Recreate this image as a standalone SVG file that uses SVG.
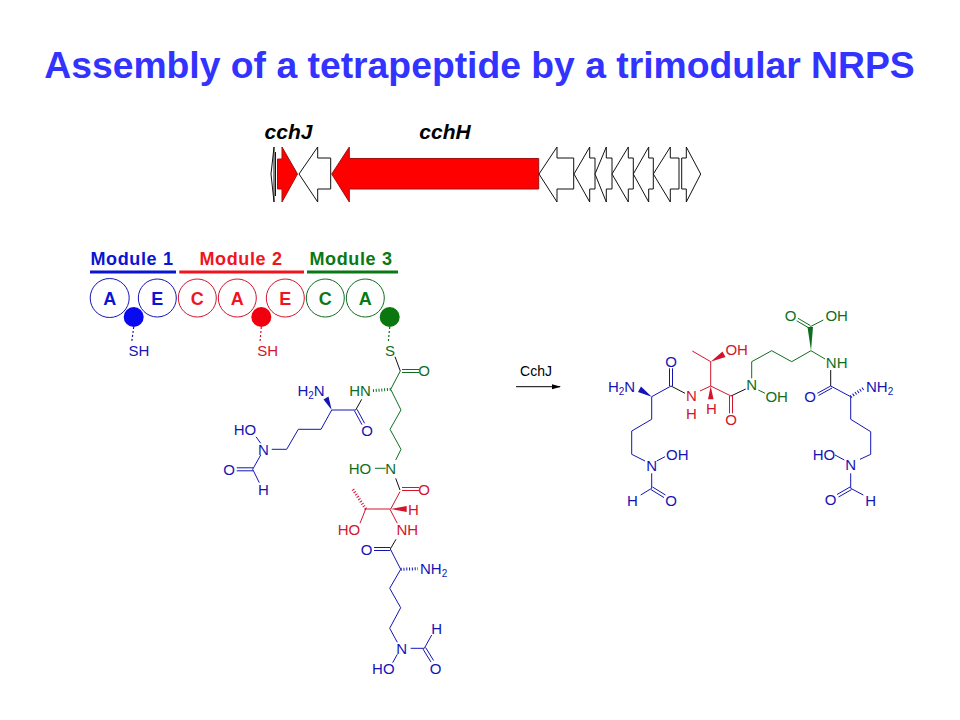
<svg xmlns="http://www.w3.org/2000/svg" width="960" height="720" viewBox="0 0 960 720">
<style>
text{font-family:"Liberation Sans",Arial,sans-serif}
.a{font-size:15px;text-anchor:middle}
.s{font-size:10px}
.m{font-size:18px;font-weight:700;text-anchor:middle;letter-spacing:.65px}
.d{font-size:18px;font-weight:700;text-anchor:middle}
.g{font-size:21px;font-weight:700;font-style:italic;text-anchor:middle;fill:#000}
.w{fill:#fff;stroke:#111;stroke-width:1}
.r{fill:#f00;stroke:#a01010;stroke-width:1}
.b,.rd,.gn,.k,.h{fill:none;stroke-width:1}
.b{stroke:#1414b4}.rd{stroke:#d2142d}.gn{stroke:#0f6e1e}.k{stroke:#111}
.tb{fill:#1414b4}.tr{fill:#d2142d}.tg{fill:#0f6e1e}
.c{fill:#fff;stroke-width:1}
.dash{stroke-width:3;stroke-dasharray:1 1.8;fill:none}
.sd{stroke-width:1.2;stroke-dasharray:2 2;fill:none}
</style>
<defs><marker id="ah" markerWidth="9" markerHeight="6" refX="8" refY="3" orient="auto" markerUnits="userSpaceOnUse"><path d="M0 .5L9 3L0 5.5Z" fill="#000"/></marker></defs>
<rect width="960" height="720" fill="#fff"/>
<text id="title" x="479.500" y="78" text-anchor="middle" font-size="37.300" font-weight="700" fill="#3333ff">Assembly of a tetrapeptide by a trimodular NRPS</text>

<g id="gene-cluster">
<text class="g" x="288.500" y="139">cchJ</text>
<text class="g" x="445" y="139">cchH</text>
<path class="w" d="M271 174L274 147V202Z"/><path class="k" d="M275.500 152V196"/>
<path class="r" d="M277.500 159H282V147L297.500 174L282 202V189H277.500Z"/>
<path class="w" d="M299 174L317.700 147V158H330.700V189H317.700V202Z"/>
<path class="r" d="M331.700 174L349.300 147V158.500H538.700V189H349.300V202Z"/>
<path class="w" d="M539 174L557 147V158H573.700V189H557V202Z"/>
<path class="w" d="M574 174L589.700 147V158H595V189H589.700V202Z"/>
<path class="w" d="M595 174L606.300 147V158H612V189H606.300V202Z"/>
<path class="w" d="M612 174L628.300 147V158H633.300V189H628.300V202Z"/>
<path class="w" d="M633.300 174L648.700 147V158H653.300V189H648.700V202Z"/>
<path class="w" d="M653.300 174L670.300 147V158H679V189H670.300V202Z"/>
<path class="w" d="M681.700 158H686.300V147L700.700 174L686.300 202V189H681.700Z"/>
</g>

<g id="module-1">
<text class="m" x="132" y="265" fill="#0a14d2">Module 1</text>
<rect x="90" y="270.500" width="86" height="3" fill="#0a14d2"/>
<circle class="c" cx="109.700" cy="298" r="19.500" stroke="#1414b4"/>
<circle class="c" cx="157.300" cy="298" r="19" stroke="#1414b4"/>
<text class="d" x="109.700" y="304.500" fill="#0a14d2">A</text>
<text class="d" x="157.300" y="304.500" fill="#0a14d2">E</text>
<path class="sd" stroke="#1414b4" d="M133.700 327L131.700 342"/>
<circle cx="133.700" cy="317" r="10" fill="#0a0af0"/>
<text class="a tb" x="139" y="356">SH</text>
</g>

<g id="module-2">
<text class="m" x="241" y="265" fill="#f0141e">Module 2</text>
<rect x="179.300" y="270.500" width="124.700" height="3" fill="#f0141e"/>
<circle class="c" cx="197.300" cy="298" r="19" stroke="#d2142d"/>
<circle class="c" cx="237.300" cy="298" r="19" stroke="#d2142d"/>
<circle class="c" cx="285.300" cy="298" r="19" stroke="#d2142d"/>
<text class="d" x="197.300" y="304.500" fill="#f0141e">C</text>
<text class="d" x="237.300" y="304.500" fill="#f0141e">A</text>
<text class="d" x="285.300" y="304.500" fill="#f0141e">E</text>
<path class="sd" stroke="#d2142d" d="M261.300 327L260 342"/>
<circle cx="261.300" cy="317" r="10" fill="#f0000f"/>
<text class="a tr" x="267.700" y="356">SH</text>
</g>

<g id="module-3">
<text class="m" x="351" y="265" fill="#0a7814">Module 3</text>
<rect x="307" y="270.500" width="91" height="3" fill="#0a7814"/>
<circle class="c" cx="325.300" cy="298" r="19" stroke="#0f6e1e"/>
<circle class="c" cx="365.300" cy="298" r="19" stroke="#0f6e1e"/>
<text class="d" x="325.300" y="304.500" fill="#0a7814">C</text>
<text class="d" x="365.300" y="304.500" fill="#0a7814">A</text>
<path class="sd" stroke="#0f6e1e" d="M389.700 327L388.300 342"/>
<circle cx="389.700" cy="317" r="10" fill="#0a780f"/>
</g>

<g id="bound-peptide">
<g id="bound-bonds">
<path class="k" d="M395 356.700L400.300 371M355.700 410L361.700 399.300M395.700 478.300L400 490M396 539.300L390.300 549"/>
<path class="gn" d="M402 369.500H419M402 372.500H419M400.300 371L390.700 389.300L401 410L390 429.300L401 449.300L395.700 460M375 468.300H385.700"/>
<path class="dash" stroke="#0f6e1e" d="M390.700 389.300L372 390.700"/>
<path class="b" d="M355.700 410H331.700L321 429.300H298.300L286.700 449.300H271.700M260.700 443.300L256 436.700M260.700 455L252.700 469.300L259.300 482.700M253 467.800H236.700M253 470.800H236.700M354.400 410.700L362 424.700M357 409.300L364.600 423.300"/>
<polygon class="tb" points="331.700,410 323.500,399.500 328.500,396.500"/>
<path class="rd" d="M402 487.500H419M402 490.500H419M400 491.700L390.700 509H365.700L360 523.300M390 509.300L397.300 523.300"/>
<polygon class="tr" points="390.700,509 406.700,506 406.700,512"/>
<path class="dash" stroke="#d2142d" d="M365.700 509L352.700 489"/>
<path class="b" d="M390.300 547.500H374M390.300 550.500H374M390.300 549L400.700 569.300L389.700 588.300L400.700 607.700L389.700 628.300L397.300 642.300M410.700 648.300H424.300L431.700 635M397.300 654.300L392.700 662.700M423 649.100L431 662.100M425.600 647.500L433.600 660.500"/>
<path class="dash" stroke="#1414b4" d="M400.700 569.300L418 568.700"/>
</g>
<text class="a tg" x="390" y="356">S</text>
<text class="a tg" x="424" y="375.500">O</text>
<text class="a tg" x="360" y="396">HN</text>
<text class="a tg" x="360" y="473.700">HO</text>
<text class="a tg" x="390.700" y="473.700">N</text>
<text class="a tb" x="311" y="396">H<tspan class="s" dy="3">2</tspan><tspan dy="-3">N</tspan></text>
<text class="a tb" x="367" y="435.500">O</text>
<text class="a tb" x="263.300" y="454.700">N</text>
<text class="a tb" x="245" y="434.700">HO</text>
<text class="a tb" x="229" y="474.700">O</text>
<text class="a tb" x="263.300" y="494.500">H</text>
<text class="a tr" x="424" y="494.500">O</text>
<text class="a tr" x="413.300" y="514.500">H</text>
<text class="a tr" x="349" y="534.700">HO</text>
<text class="a tr" x="407.300" y="534.700">NH</text>
<text class="a tb" x="366.700" y="554.500">O</text>
<text class="a tb" x="420" y="574" style="text-anchor:start">NH<tspan class="s" dy="3">2</tspan></text>
<text class="a tb" x="401.700" y="653.700">N</text>
<text class="a tb" x="436.700" y="633.700">H</text>
<text class="a tb" x="435.700" y="673.700">O</text>
<text class="a tb" x="383.300" y="673.700">HO</text>
</g>

<g id="connectors">
<text x="536" y="375.700" font-size="14" text-anchor="middle" fill="#000">CchJ</text>
<path d="M516 386.700H560" stroke="#000" stroke-width="1" fill="none" marker-end="url(#ah)"/>
</g>

<g id="product">
<g id="product-bonds">
<path class="b" d="M651.700 396.700L671 386M669.500 386V368.300M672.500 386V368.300M651.700 396.700V419.300L631.700 431V454.300L645 461M656.700 461L665 456.700M651.700 473.300V488.300L640.700 495M651 489.600L664 497.600M652.500 487L665.500 495"/>
<polygon class="tb" points="651.700,396.700 638,392 641,386.500"/>
<path class="k" d="M671 386L685 393.300M731 396L745.700 389M830.700 370V386"/>
<path class="rd" d="M700 391L710.700 386L731 396M710.700 386V361.700L692.300 351M729.500 396V413.300M732.500 396V413.300"/>
<polygon class="tr" points="710.700,386 708,399.300 713.500,399.300"/>
<polygon class="tr" points="710.700,361.700 722.500,351.500 725.500,357"/>
<path class="gn" d="M751.700 378.300V361.700L771.700 350.700L791.700 361.700L811 350.700L825 359M758.300 390L765 393.300M810.300 325.500L798 318.300M809 328L796.700 320.800M810.300 326.700L823.300 320"/>
<polygon class="tg" points="811,350.700 807.500,327 813,327"/>
<path class="b" d="M830.700 386L817.300 393.300M832 388L818.500 395.500M830.700 386L850.700 396.700V419.300L870.700 431.700V454.300L860 459.300M844.300 460L835 455M850.700 473.300V488.300L863.300 495M850 487L837 494.500M851.500 489.600L838.500 497"/>
<path class="dash" stroke="#1414b4" d="M850.700 396.700L863.300 388.300"/>
</g>
<text class="a tb" x="621.500" y="391.700">H<tspan class="s" dy="3">2</tspan><tspan dy="-3">N</tspan></text>
<text class="a tb" x="671" y="367">O</text>
<text class="a tr" x="691.300" y="401.400">N</text>
<text class="a tr" x="691.300" y="419.400">H</text>
<text class="a tr" x="711.300" y="413.700">H</text>
<text class="a tr" x="736.700" y="355.400">OH</text>
<text class="a tr" x="731" y="424.700">O</text>
<text class="a tg" x="751.700" y="390.400">N</text>
<text class="a tg" x="776.700" y="402">OH</text>
<text class="a tg" x="790.700" y="321">O</text>
<text class="a tg" x="836.700" y="321">OH</text>
<text class="a tg" x="836.700" y="367.700">NH</text>
<text class="a tb" x="810" y="402">O</text>
<text class="a tb" style="text-anchor:start" x="866" y="392.300">NH<tspan class="s" dy="3">2</tspan></text>
<text class="a tb" x="651.700" y="471">N</text>
<text class="a tb" x="677.300" y="459.700">OH</text>
<text class="a tb" x="632.300" y="506">H</text>
<text class="a tb" x="671" y="506">O</text>
<text class="a tb" x="824" y="459.700">HO</text>
<text class="a tb" x="850.700" y="470.400">N</text>
<text class="a tb" x="830.700" y="505.400">O</text>
<text class="a tb" x="870.700" y="506">H</text>
</g>
</svg>
